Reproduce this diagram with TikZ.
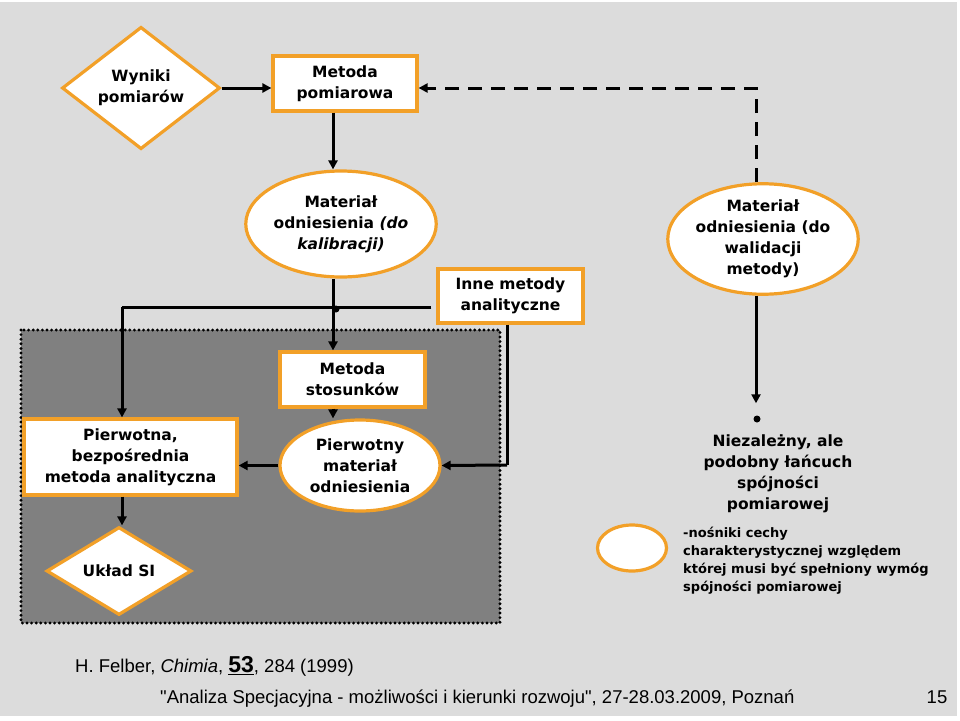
\documentclass[tikz,border=0pt]{standalone}
\usepackage{fontspec}
\setmainfont{DejaVu Sans}
\newfontfamily\footfont{Liberation Sans}
\usetikzlibrary{shapes.geometric,arrows.meta,calc}
\definecolor{bg}{RGB}{220,220,220}
\definecolor{dk}{RGB}{128,128,128}
\definecolor{orng}{RGB}{242,160,40}
\begin{document}
\begin{tikzpicture}[x=1pt,y=-1pt,
 base/.style={draw=orng, line width=3.2pt, fill=white, inner sep=0pt, align=center, font=\bfseries\fontsize{15.5}{21}\selectfont},
 boxn/.style={base, rectangle},
 ell/.style={base, ellipse},
 dia/.style={base, diamond},
 arr/.style={line width=3pt, -{Triangle[length=9pt,width=9pt]}},
 ln/.style={line width=3pt},
 dot/.style={circle, fill=black, inner sep=0pt, minimum size=7pt},
 foot/.style={font=\footfont\fontsize{18.5}{20}\selectfont, inner sep=0pt},
]
\useasboundingbox (0,0) rectangle (960,720);
\fill[white] (0,0) rectangle (960,720);
\fill[bg] (0,1.5) rectangle (957,716);
% shaded region
\fill[dk] (21,330) rectangle (500,623);
\draw[line width=3.2pt, dash pattern=on 0pt off 4.6pt, line cap=round] (21,330) rectangle (500,623);

% nodes
\node[dia, minimum width=158pt, minimum height=105pt] (wyn) at (141,88) {Wyniki\\pomiarów};
\node[boxn, minimum width=144pt, minimum height=55pt] (mp) at (345,83.5) {Metoda\\pomiarowa};
\node[ell, minimum width=182pt, minimum height=106pt] (kal) at (341,224) {Materiał\\odniesienia \textit{(do}\\\textit{kalibracji)}};
\node[boxn, minimum width=145pt, minimum height=54pt] (inne) at (510.5,296) {Inne metody\\analityczne};
\node[ell, minimum width=182pt, minimum height=108pt] (val) at (763,239) {Materiał\\odniesienia (do\\walidacji\\metody)};
\node[boxn, minimum width=145pt, minimum height=55pt] (ms) at (352.5,379.5) {Metoda\\stosunków};
\node[ell, minimum width=160pt, minimum height=91pt] (pm) at (360,465.5) {Pierwotny\\materiał\\odniesienia};
\node[boxn, minimum width=213pt, minimum height=76pt] (pw) at (130.5,457) {Pierwotna,\\bezpośrednia\\metoda analityczna};
\node[dia, minimum width=145pt, minimum height=88pt] (si) at (119,571) {Układ SI};
\node[dot] (nd) at (757,419) {};
\node[align=center, inner sep=0pt, font=\bfseries\fontsize{15.5}{21}\selectfont] (niez) at (778,474) {Niezależny, ale\\podobny łańcuch\\spójności\\pomiarowej};
\node[ell, minimum width=69pt, minimum height=46pt] (leg) at (632,548) {};
\node[anchor=north west, align=left, inner sep=0pt, font=\bfseries\fontsize{13}{18}\selectfont] (legt) at (683,527) {-nośniki cechy\\charakterystycznej względem\\której musi być spełniony wymóg\\spójności pomiarowej};

% helper coordinates
\coordinate (cx) at (333,0);
\coordinate (hl) at (122,307);
\coordinate (ix) at (507,465);
\coordinate (vx) at (756,0);

% connectors
\draw[arr] (wyn.east) -- (wyn.east -| mp.west);
\draw[arr] (mp.south -| cx) -- (kal.north -| cx);
\draw[arr] (kal.south -| cx) -- (ms.north -| cx);
\draw[ln] ([xshift=-5pt]inne.west |- hl) -- (hl);
\draw[arr] (hl) -- (hl |- pw.north);
\node[dot, minimum size=7pt] (jd) at (336,309) {};
\draw[arr] (ms.south -| cx) -- (pm.north -| cx);
\draw[arr] (pm.west) -- (pm.west -| pw.east);
\draw[ln] (inne.south -| ix) -- (ix);
\draw[arr] (ix) -- (pm.east);
\draw[arr] (hl |- pw.south) -- (hl |- si.north);
\draw[arr, dash pattern=on 14pt off 9pt] (val.north -| vx) -- (vx |- wyn.east) -- (wyn.east -| mp.east);
\draw[arr, shorten >=12pt] (val.south -| vx) -- (vx |- nd.north);

% footer
\node[foot, anchor=west] (ref) at (75,666) {H. Felber, \textit{Chimia}, \underline{\textbf{\fontsize{23}{23}\selectfont 53}}, 284 (1999)};
\node[foot, anchor=west] (conf) at (160,699) {"Analiza Specjacyjna - możliwości i kierunki rozwoju", 27-28.03.2009, Poznań};
\node[foot] (pg) at (937,697) {15};
\end{tikzpicture}
\end{document}
